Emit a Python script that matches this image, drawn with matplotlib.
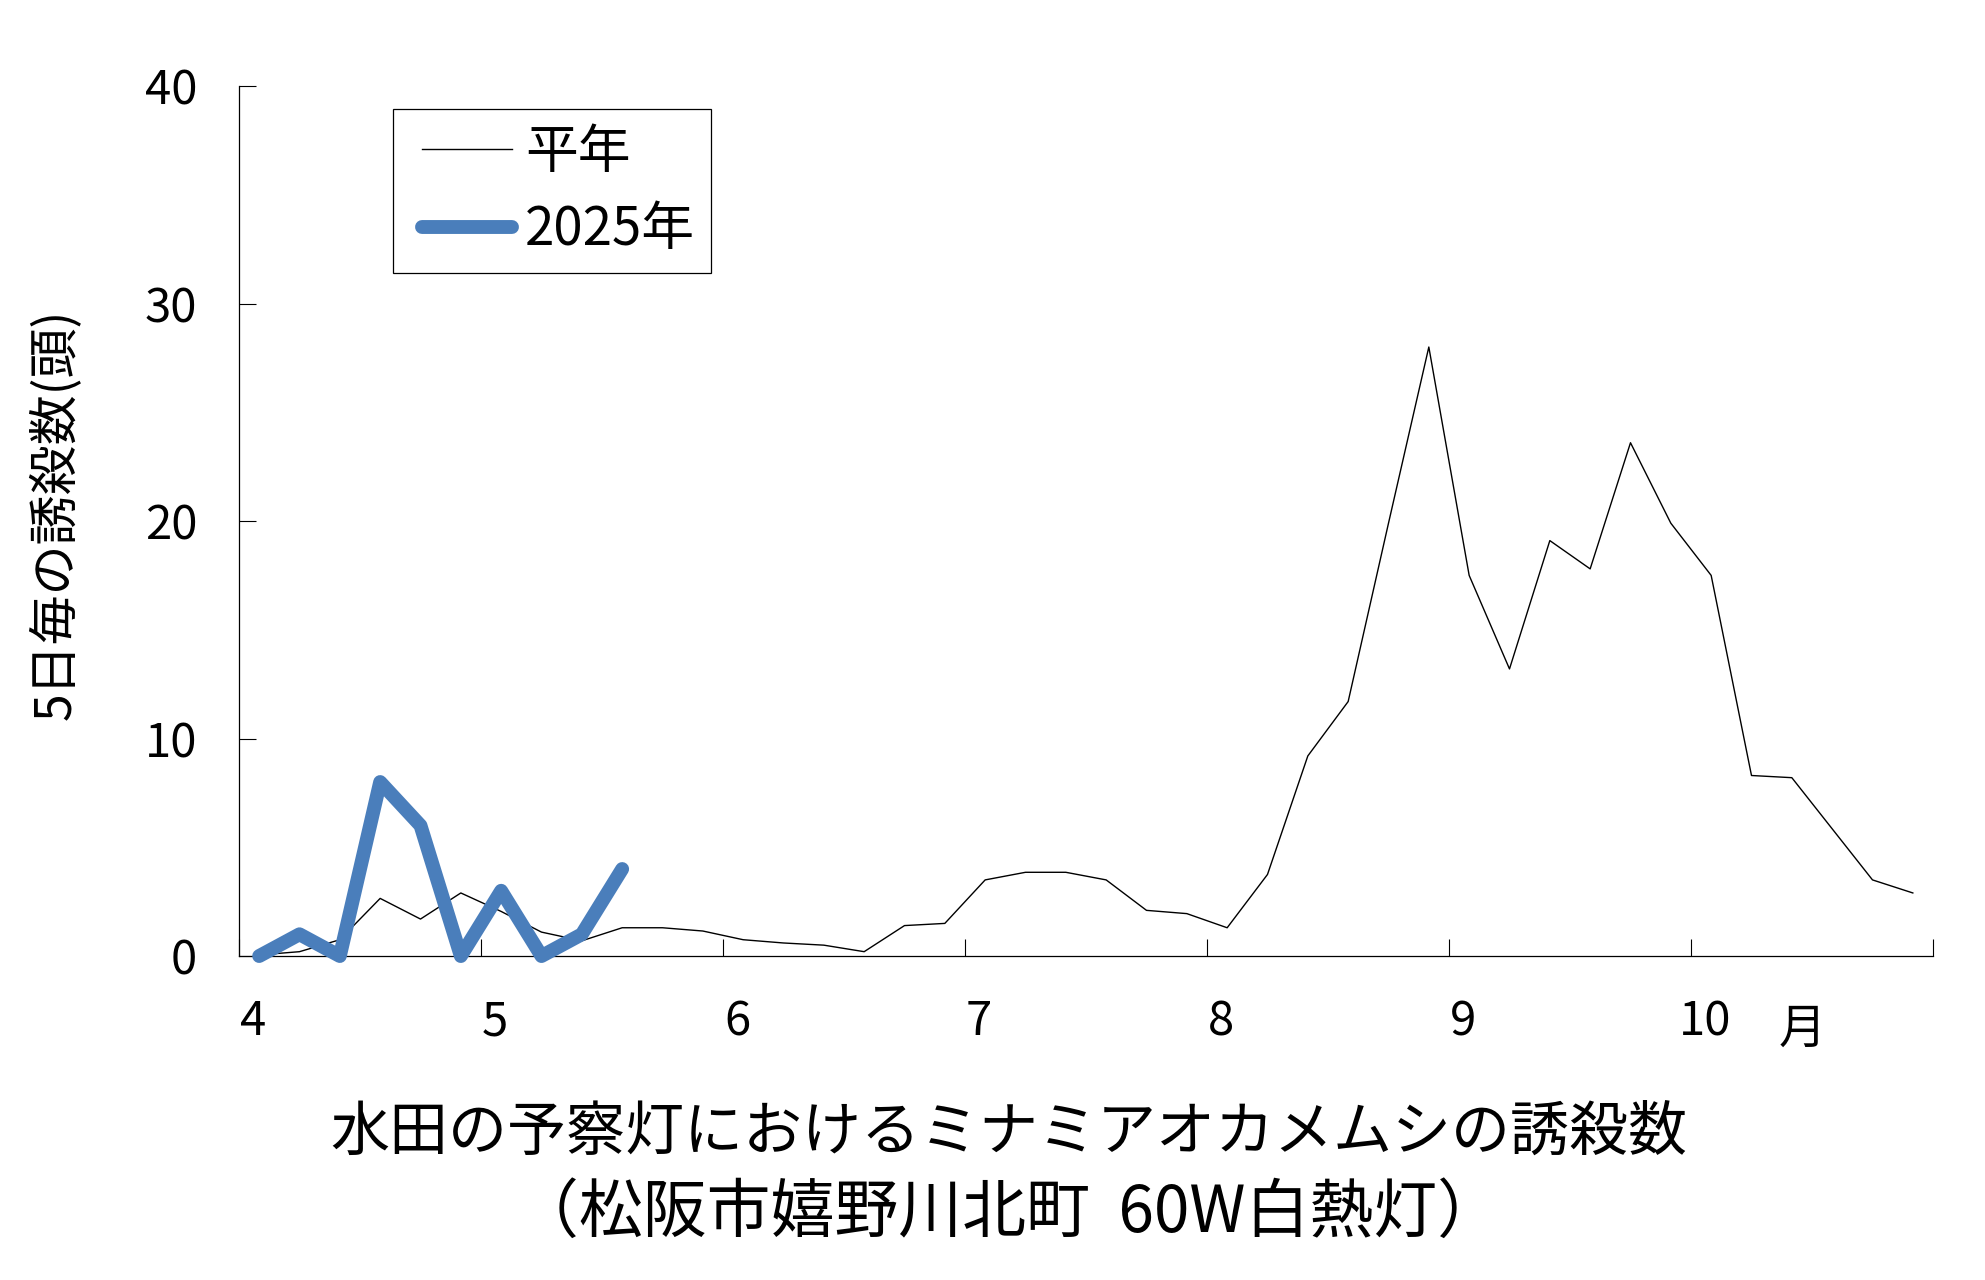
import matplotlib
matplotlib.use('Agg')
import matplotlib.pyplot as plt
from matplotlib.legend_handler import HandlerLine2D
import numpy as np

plt.rcParams['font.family'] = ['Noto Sans CJK JP', 'DejaVu Sans']

# 5-day intervals from April to October (6 per month)
months = ['4', '5', '6', '7', '8', '9', '10']
heinen = [0.05, 0.2, 0.75, 2.65, 1.7, 2.9, 2.05, 1.1, 0.7, 1.3, 1.3, 1.15,
          0.75, 0.6, 0.5, 0.2, 1.4, 1.5, 3.5, 3.85, 3.85, 3.5, 2.1, 1.95,
          1.3, 3.75, 9.2, 11.7, 19.9, 28.0, 17.5, 13.2, 19.1, 17.8, 23.6, 19.9,
          17.5, 8.3, 8.2, 5.85, 3.5, 2.9]
y2025 = [0, 1, 0, 8, 6, 0, 3, 0, 1, 4]

fig = plt.figure(figsize=(19.85, 12.8), dpi=100)
ax = fig.add_axes([0.1204, 0.2531, 0.8534, 0.6797])

x = np.arange(len(heinen))
x2 = np.arange(len(y2025))
ax.plot(x, heinen, color='black', lw=1.0, label='平年')
ax.plot(x2, y2025, color='#4a7ebb', lw=10, solid_capstyle='round',
        solid_joinstyle='round', label='2025年', clip_on=False, zorder=3)

ax.set_xlim(-0.5, 41.5)
ax.set_ylim(0, 40)
ax.set_yticks([0, 10, 20, 30, 40])
ax.tick_params(axis='y', direction='in', length=12, width=0.8, labelsize=34, pad=30)

# month boundaries as ticks, month labels under the first interval
ax.set_xticks(np.arange(-0.5, 42, 6))
ax.set_xticklabels([])
ax.set_xticks(np.arange(0, 42, 6) - 0.15, minor=True)
ax.set_xticklabels(months, minor=True)
ax.tick_params(axis='x', which='major', direction='in', length=12, width=0.8)
ax.tick_params(axis='x', which='minor', length=0, labelsize=34, pad=30)
ax.text(38.26, -0.084, '月', transform=ax.get_xaxis_transform(),
        ha='center', va='center', fontsize=34)

for s in ['top', 'right']:
    ax.spines[s].set_visible(False)
for s in ['left', 'bottom']:
    ax.spines[s].set_linewidth(0.9)

ax.set_ylabel('5日毎の誘殺数(頭)', fontsize=36)
ax.yaxis.set_label_coords(-0.092, 0.508)

leg = ax.legend(loc='upper left', bbox_to_anchor=(0.091, 0.9736), fontsize=38,
                frameon=True, fancybox=False, edgecolor='black', framealpha=1,
                handlelength=1.95, handletextpad=0.25, labelspacing=0.42,
                borderpad=0.3, borderaxespad=0,
                handler_map={plt.Line2D: HandlerLine2D(xpad=0.25)})
leg.get_frame().set_linewidth(0.9)

fig.text(0.508, 0.115, '水田の予察灯におけるミナミアオカメムシの誘殺数',
         ha='center', va='center', fontsize=42.5)
fig.text(0.508, 0.052, '（松阪市嬉野川北町  60W白熱灯）',
         ha='center', va='center', fontsize=46)

fig.savefig('out.png', dpi=100)
